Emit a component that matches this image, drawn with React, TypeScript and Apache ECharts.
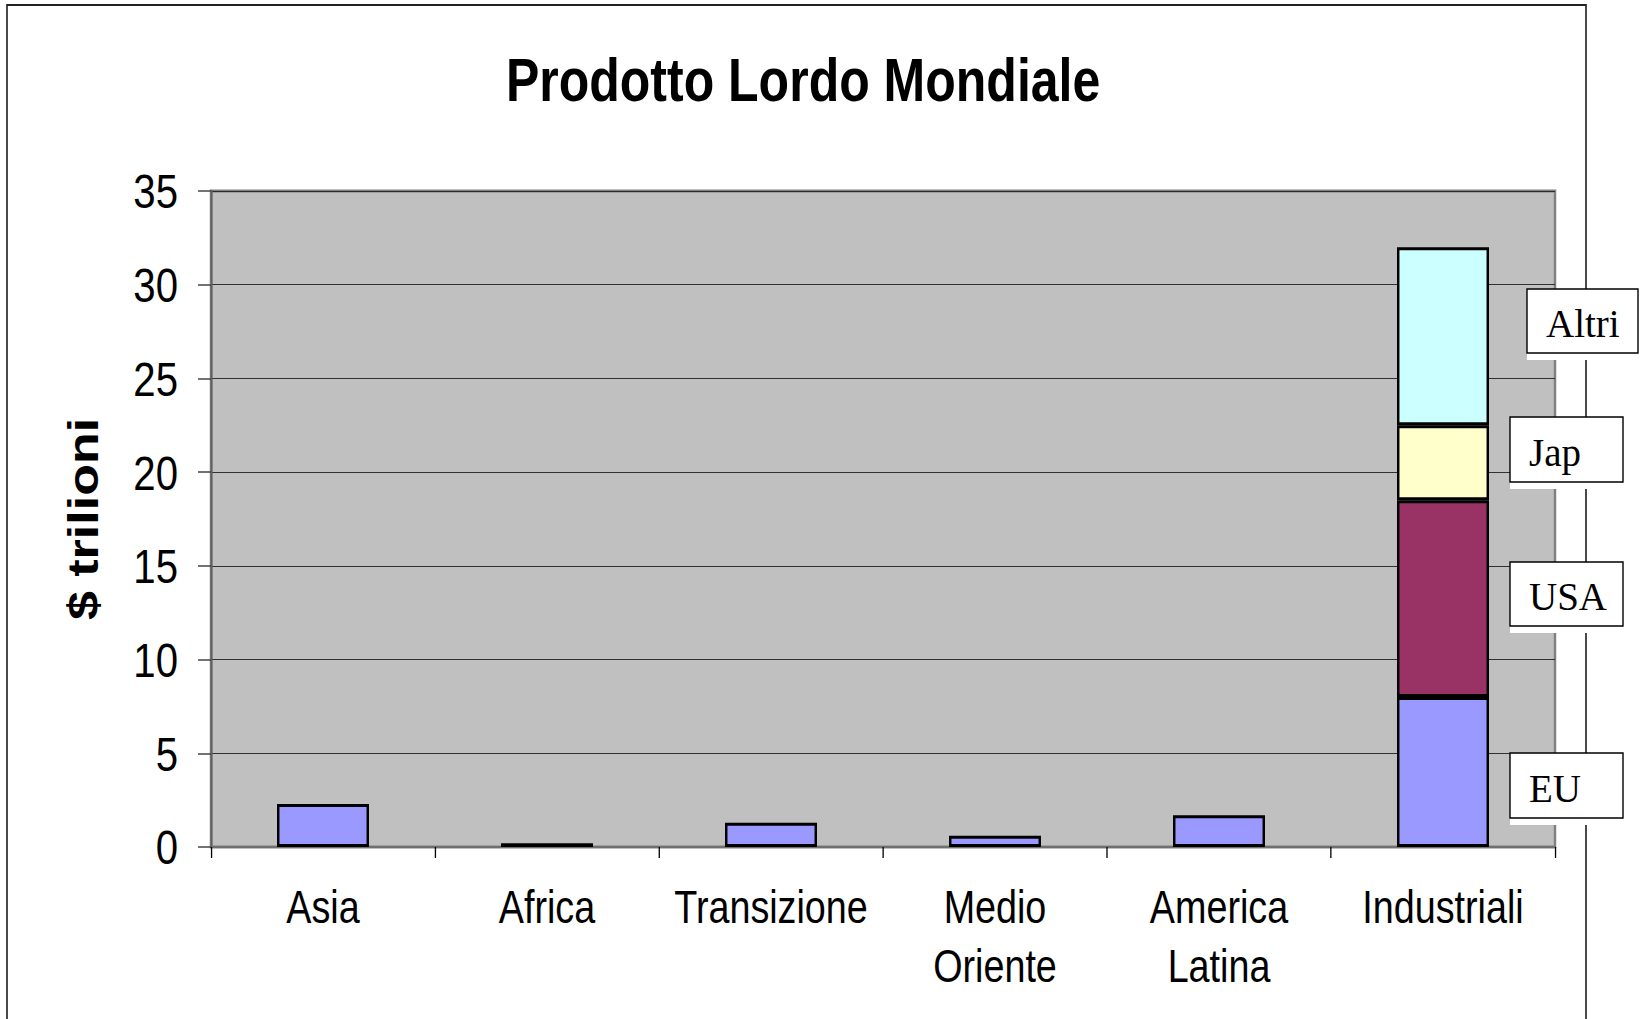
import React, { useEffect, useRef } from 'react';
import * as echarts from 'echarts';

const categories = ['Asia', 'Africa', 'Transizione', 'Medio\nOriente', 'America\nLatina', 'Industriali'];
const euValues = [2.3, 0.2, 1.3, 0.6, 1.7, 8.0];
const usaValues = [null, null, null, null, null, 10.5];
const japValues = [null, null, null, null, null, 4.0];
const altriValues = [null, null, null, null, null, 9.5];
const yMin = 0;
const yMax = 35;
const yInterval = 5;
const segmentNames = ['EU', 'USA', 'Jap', 'Altri'];
const chartTitle = 'Prodotto Lordo Mondiale';
const yAxisTitle = '$ trilioni';

// The reference is horizontally condensed (narrow type); the chart is drawn
// wider and squeezed by K so every text and mark keeps that look.
const K = 0.82;
const W = 1644;
const H = 1019;
const sx = (v: number) => v / K;

// annotation box layout (px on the page), same order as segmentNames
const boxLayout = [
  { x: 1510, y: 753, w: 113, h: 65 },
  { x: 1510, y: 562, w: 113, h: 64 },
  { x: 1510, y: 417, w: 113, h: 65 },
  { x: 1527, y: 289, w: 111, h: 64 },
];
const segmentColors = ['#9999FF', '#993366', '#FFFFCC', '#CCFFFF'];

const SANS = '"Liberation Sans", Arial, sans-serif';
const SERIF = '"Liberation Serif", "Times New Roman", serif';

export default function App() {
  const ref = useRef<HTMLDivElement>(null);
  useEffect(() => {
    if (!ref.current) return;
    const chart = echarts.init(ref.current, undefined, { renderer: 'svg' });
    const seriesData = [euValues, usaValues, japValues, altriValues];
    const graphics: any[] = [
      {
        type: 'rect',
        shape: { x: sx(7), y: 5, width: sx(1579), height: 1100 },
        style: { fill: 'none', stroke: '#222', lineWidth: 2 },
        z: 1,
      },
    ];
    segmentNames.forEach((name, i) => {
      const b = boxLayout[i];
      graphics.push({
        type: 'rect',
        shape: { x: sx(b.x), y: b.y, width: sx(b.w), height: b.h + 7 },
        style: { fill: '#fff', stroke: 'none' },
        z: 2,
      });
      graphics.push({
        type: 'rect',
        shape: { x: sx(b.x), y: b.y, width: sx(b.w), height: b.h },
        style: { fill: '#fff', stroke: '#000', lineWidth: 1.7 },
        z: 3,
      });
      graphics.push({
        type: 'text',
        x: sx(b.x + 19),
        y: b.y + b.h / 2 + 3,
        scaleX: 1 / K,
        style: {
          text: name,
          font: `39px ${SERIF}`,
          fill: '#000',
          verticalAlign: 'middle',
          align: 'left',
        },
        z: 4,
      });
    });
    chart.setOption({
      animation: false,
      backgroundColor: '#fff',
      title: {
        text: chartTitle,
        left: sx(799),
        top: 45,
        textAlign: 'center',
        textStyle: { fontFamily: SANS, fontWeight: 'bold', fontSize: 61, color: '#000' },
      },
      grid: {
        left: sx(211),
        top: 191,
        width: sx(1344),
        height: 656,
        show: true,
        backgroundColor: '#C0C0C0',
        borderColor: '#808080',
        borderWidth: 3,
      },
      xAxis: {
        type: 'category',
        data: categories,
        boundaryGap: true,
        axisLine: { show: true, lineStyle: { color: '#707070', width: 2 } },
        axisTick: { show: true, alignWithLabel: false, length: 11, lineStyle: { color: '#000', width: 1.6 } },
        axisLabel: {
          margin: 31,
          fontFamily: SANS,
          fontSize: 46,
          lineHeight: 59,
          color: '#000',
          interval: 0,
        },
        splitLine: { show: false },
      },
      yAxis: {
        type: 'value',
        min: yMin,
        max: yMax,
        interval: yInterval,
        name: yAxisTitle,
        nameLocation: 'middle',
        nameRotate: 90,
        nameGap: 130,
        nameTextStyle: { fontFamily: SANS, fontWeight: 'bold', fontSize: 52, color: '#000' },
        axisLine: { show: true, lineStyle: { color: '#606060', width: 2.4 } },
        axisTick: { show: true, length: sx(13), lineStyle: { color: '#444', width: 1.5 } },
        axisLabel: { margin: sx(33), fontFamily: SANS, fontSize: 49, color: '#000' },
        splitLine: { show: true, lineStyle: { color: '#222', width: 1 } },
      },
      series: segmentNames.map((name, i) => ({
        name,
        type: 'bar',
        stack: 'total',
        barWidth: sx(92),
        data: seriesData[i],
        itemStyle: { color: segmentColors[i], borderColor: '#000', borderWidth: 3 },
      })),
      graphic: graphics,
    });
    return () => chart.dispose();
  }, []);
  return (
    <div style={{ position: 'absolute', left: 0, top: 0, width: W, height: H, overflow: 'hidden', background: '#fff' }}>
      <div
        ref={ref}
        style={{
          position: 'absolute',
          left: 0,
          top: 0,
          width: sx(W),
          height: H,
          transform: `scaleX(${K})`,
          transformOrigin: '0 0',
        }}
      />
    </div>
  );
}
